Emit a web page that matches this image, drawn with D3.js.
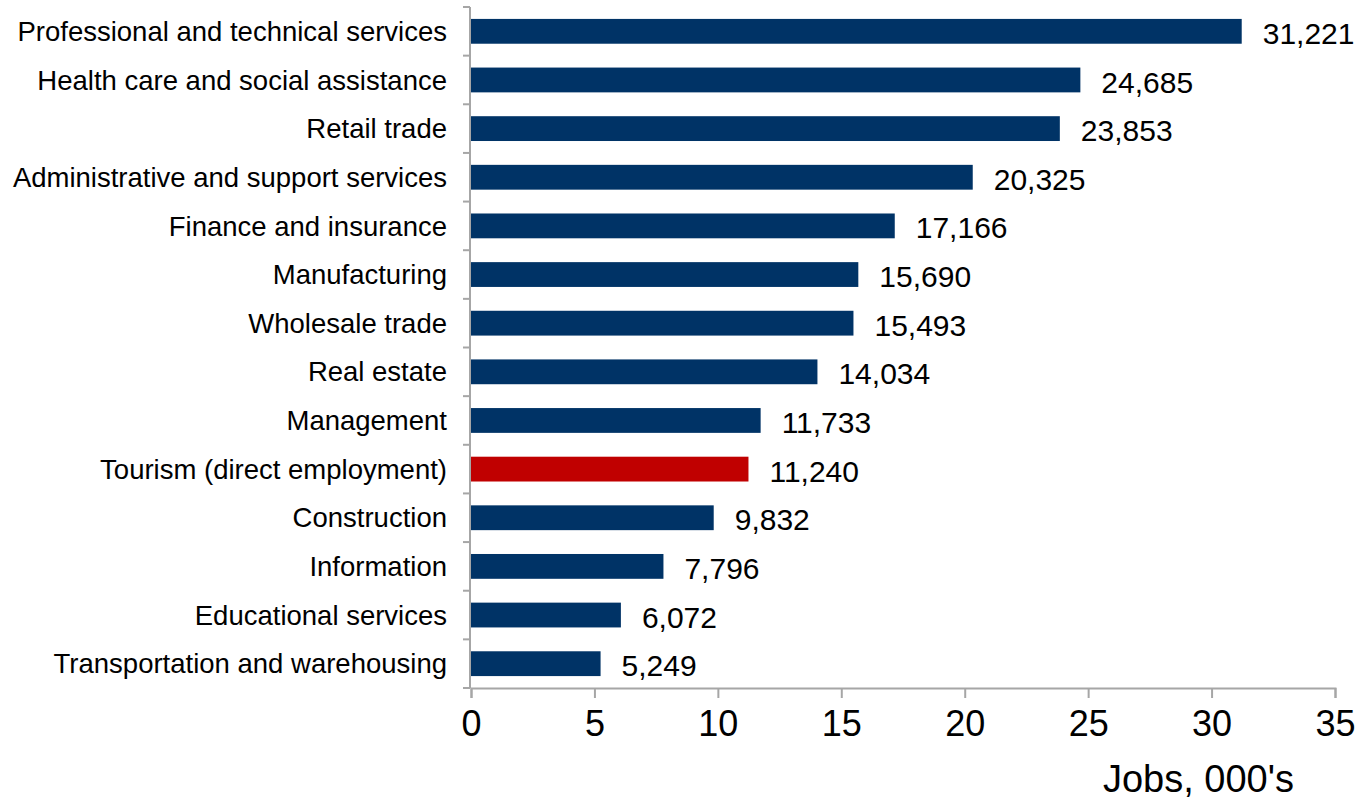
<!DOCTYPE html>
<html><head><meta charset="utf-8">
<script src="https://cdn.jsdelivr.net/npm/d3@7"></script>
<style>
html,body{margin:0;padding:0;background:#fff;}
svg{display:block;font-family:"Liberation Sans",Arial,sans-serif;}
</style></head>
<body>
<svg id="c" width="1361" height="801"></svg>
<script>
const categories = ["Professional and technical services","Health care and social assistance","Retail trade","Administrative and support services","Finance and insurance","Manufacturing","Wholesale trade","Real estate","Management","Tourism (direct employment)","Construction","Information","Educational services","Transportation and warehousing"];
const values = [31221,24685,23853,20325,17166,15690,15493,14034,11733,11240,9832,7796,6072,5249];
const highlight = "Tourism (direct employment)";
const xTicks = [0,5,10,15,20,25,30,35];
const xTitle = "Jobs, 000's";

const svg = d3.select("#c");
const x = d3.scaleLinear().domain([0,35]).range([471,1335]);
const y = d3.scaleBand().domain(categories).range([7,688]).paddingInner(0.49).paddingOuter(0.245);
const axisColor = "#a6a6a6";
const fmt = d3.format(",");

// bars
svg.append("g").selectAll("rect").data(categories).join("rect")
  .attr("x", x(0))
  .attr("y", d => y(d))
  .attr("width", (d,i) => x(values[i]/1000) - x(0))
  .attr("height", y.bandwidth())
  .attr("fill", d => d === highlight ? "#c00000" : "#003366");

// x axis
const xAxis = svg.append("g").attr("transform","translate(0,688)")
  .call(d3.axisBottom(x).tickValues(xTicks).tickSize(10).tickPadding(12).tickFormat(d3.format("d")));
xAxis.select(".domain").attr("stroke",axisColor).attr("stroke-width",2);
xAxis.selectAll(".tick line").attr("stroke",axisColor).attr("stroke-width",2);
xAxis.selectAll(".tick text").attr("font-size","36px").attr("fill","#000")
  .attr("font-family","Liberation Sans, Arial, sans-serif");

// y axis line
const step = y.step();
const boundaries = categories.map(c => y(c) - step*y.paddingInner()/2).concat([688]);
svg.append("line").attr("x1",x(0)-1).attr("x2",x(0)-1).attr("y1",boundaries[0]).attr("y2",688)
  .attr("stroke",axisColor).attr("stroke-width",2);
svg.append("g").selectAll("line").data(boundaries).join("line")
  .attr("x1",463).attr("x2",x(0)-1).attr("y1",d=>d).attr("y2",d=>d)
  .attr("stroke",axisColor).attr("stroke-width",2);

// category labels
svg.append("g").selectAll("text").data(categories).join("text")
  .attr("x",447).attr("y",d => y(d)+y.bandwidth()/2)
  .attr("dy","0.35em").attr("text-anchor","end")
  .attr("font-size","27.5px").attr("fill","#000").text(d=>d);

// value labels
svg.append("g").selectAll("text").data(categories).join("text")
  .attr("x",(d,i)=> x(values[i]/1000)+21).attr("y",d => y(d)+y.bandwidth()/2)
  .attr("dy","0.42em")
  .attr("font-size","30px").attr("fill","#000").text((d,i)=>fmt(values[i]));

// title
svg.append("text").attr("x",1294).attr("y",792).attr("text-anchor","end")
  .attr("font-size","38px").attr("fill","#000").text(xTitle);
</script>
</body></html>
